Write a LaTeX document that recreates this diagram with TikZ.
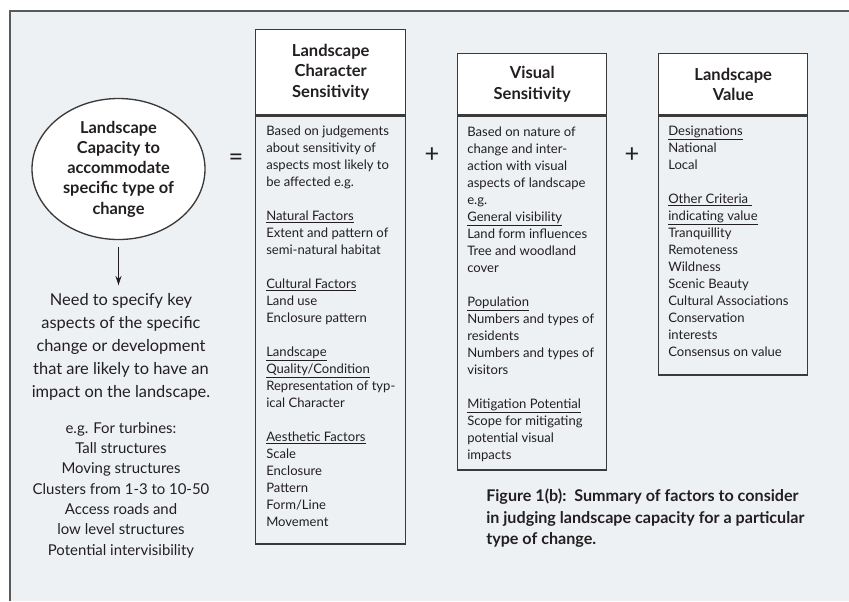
\documentclass[tikz,border=0pt]{standalone}
\usepackage{fontspec}
\setmainfont{Lato}
\usepackage{xcolor}
\definecolor{panel}{HTML}{EEF1F4}
\definecolor{ink}{HTML}{231F20}
\definecolor{edge}{HTML}{3A3A3A}
\definecolor{framegray}{HTML}{5A5A5A}
\usetikzlibrary{shapes.geometric,arrows.meta,positioning}
\tikzset{
    semithick,
    capacity/.style ={ellipse, draw=edge, fill=white, line width=1pt, minimum width=129.75pt, minimum height=105.75pt, inner sep=0pt, align=center, text=ink, font=\fontsize{12.3}{15.2}\selectfont\bfseries},
    headbox/.style ={rectangle, draw=edge, fill=white, line width=1.1pt, inner sep=0pt, align=center, text=ink, font=\fontsize{12.4}{15.4}\selectfont\bfseries},
    bodybox/.style ={rectangle, draw=edge, line width=1.1pt, inner sep=0pt},
    bodytext/.style ={anchor=north west, inner sep=0pt, align=left, text=ink, font=\fontsize{9.8}{12.75}\selectfont},
    sign/.style ={inner sep=0pt, text=ink, font=\fontsize{19}{19}\selectfont},
    note/.style ={inner sep=0pt, align=center, text=ink, font=\fontsize{12.3}{17.25}\selectfont},
    example/.style ={inner sep=0pt, align=center, text=ink, font=\fontsize{11.2}{15.2}\selectfont},
    caption/.style ={anchor=north west, inner sep=0pt, align=left, text=ink, font=\fontsize{12.1}{16}\selectfont\bfseries},
    flow/.style ={-{Stealth[length=7pt,width=4.5pt]}, draw=ink, line width=0.9pt}
}

\begin{document}
\begin{tikzpicture}[x=0.75pt, y=-0.75pt]
    \useasboundingbox (0,0) rectangle (849,601);
    \fill[panel] (10,11) rectangle (849,601);
    \draw[framegray, line width=1.2pt] (849,11) -- (10,11) -- (10,601);

    \node[capacity] (capacity) at (118.5,169) {Landscape\\Capacity to\\accommodate\\specific type of\\change};
    \node[note] (need) at (121,347) {Need to specify key\\aspects of the specific\\change or development\\that are likely to have an\\impact on the landscape.};
    \node[example] (turbines) at (121,490) {e.g. For turbines:\\Tall structures\\Moving structures\\Clusters from 1-3 to 10-50\\Access roads and\\low level structures\\Potential intervisibility};
    \draw[flow, shorten <=5.25pt, shorten >=6pt] (capacity.south) -- (capacity.south |- need.north);

    \node[sign] (eq) at (236,160) {=};
    \node[sign] (plusA) at (432,155) {+};
    \node[sign] (plusB) at (632,155) {+};

    % landscape character sensitivity
    \node[headbox, anchor=north west, minimum width=112.5pt, minimum height=63.75pt] (lcsHead) at (255,29) {Landscape\\Character\\Sensitivity};
    \node[bodybox, below=0pt of lcsHead, minimum width=112.5pt, minimum height=321pt] (lcsBody) {};
    \node[bodytext] (lcsText) at ([xshift=8.25pt, yshift=-7.5pt]lcsBody.north west) {Based on judgements\\about sensitivity of\\aspects most likely to\\be affected e.g.\\[12.75pt]
        \underline{Natural Factors}\\Extent and pattern of\\semi-natural habitat\\[12.75pt]
        \underline{Cultural Factors}\\Land use\\Enclosure pattern\\[12.75pt]
        \underline{Landscape}\\\underline{Quality/Condition}\\Representation of typ-\\ical Character\\[12.75pt]
        \underline{Aesthetic Factors}\\Scale\\Enclosure\\Pattern\\Form/Line\\Movement};

    % visual sensitivity
    \node[headbox, anchor=north west, minimum width=111.75pt, minimum height=45.75pt] (visHead) at (457,53) {Visual\\Sensitivity};
    \node[bodybox, below=0pt of visHead, minimum width=111.75pt, minimum height=265.5pt] (visBody) {};
    \node[bodytext] (visText) at ([xshift=7.5pt, yshift=-8.25pt]visBody.north west) {Based on nature of\\change and inter-\\action with visual\\aspects of landscape\\e.g.\\
        \underline{General visibility}\\Land form influences\\Tree and woodland\\cover\\[12.75pt]
        \underline{Population}\\Numbers and types of\\residents\\Numbers and types of\\visitors\\[12.75pt]
        \underline{Mitigation Potential}\\Scope for mitigating\\potential visual\\impacts};

    % landscape value
    \node[headbox, anchor=north west, minimum width=111.75pt, minimum height=45.75pt] (valHead) at (658,53) {Landscape\\Value};
    \node[bodybox, below=0pt of valHead, minimum width=111.75pt, minimum height=194.25pt] (valBody) {};
    \node[bodytext] (valText) at ([xshift=7.5pt, yshift=-7.5pt]valBody.north west) {\underline{Designations}\\National\\Local\\[12.75pt]
        \underline{Other Criteria\ }\\\underline{indicating value}\\Tranquillity\\Remoteness\\Wildness\\Scenic Beauty\\Cultural Associations\\Conservation\\interests\\Consensus on value};

    \node[caption] (figCaption) at (486,489) {Figure 1(b):\ \ Summary of factors to consider\\in judging landscape capacity for a particular\\type of change.};
\end{tikzpicture}
\end{document}
